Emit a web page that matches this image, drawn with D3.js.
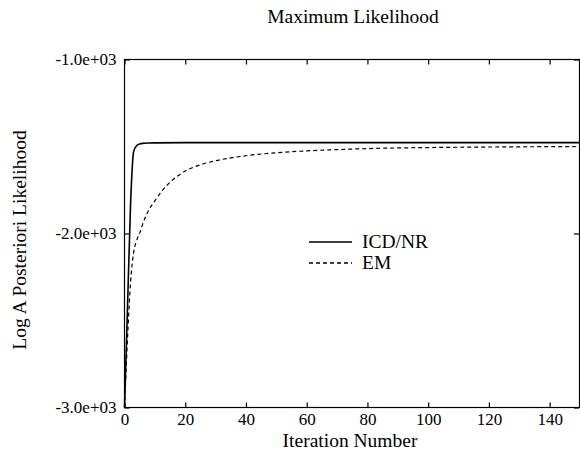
<!DOCTYPE html>
<html>
<head>
<meta charset="utf-8">
<script src="https://cdn.jsdelivr.net/npm/d3@7"></script>
<style>
  body { margin: 0; background: #fff; }
  svg { display: block; font-family: "Liberation Serif", "Times New Roman", serif; }
</style>
</head>
<body>
<div id="chart"></div>
<script>
// Iteration numbers and log posterior values
const icdIter = [0, 1, 2, 3, 4, 5, 6, 8, 10, 20, 40, 60, 80, 100, 120, 150];
const icdValue = [-3000, -2420, -1830, -1530, -1495, -1486, -1482, -1480, -1479, -1478, -1478, -1478, -1478, -1478, -1478, -1478];

const emIter = [0, 1, 2, 3, 4, 5, 6, 8, 10, 12, 15, 20, 25, 30, 40, 50, 60, 70, 80, 100, 120, 150];
const emValue = [-3000, -2600, -2280, -2110, -2040, -1998, -1945, -1865, -1812, -1763, -1705, -1641, -1605, -1582, -1553, -1536, -1525, -1518, -1512, -1506, -1503, -1500];

const xTicks = [0, 20, 40, 60, 80, 100, 120, 140];
const yTicks = [-1000, -2000, -3000];
const legendNames = ["ICD/NR", "EM"];

var width = 580, height = 452;
var plot = {left: 124.5, right: 580, top: 59.5, bottom: 407.5};

var svg = d3.select("#chart")
    .append("svg")
    .attr("width", width)
    .attr("height", height);

const x = d3.scaleLinear()
    .domain([0, 150])
    .range([plot.left, plot.right]);

const y = d3.scaleLinear()
    .domain([-3000, -1000])
    .range([plot.bottom, plot.top]);

// frame
svg.append("rect")
    .attr("x", plot.left)
    .attr("y", plot.top)
    .attr("width", plot.right - 0.5 - plot.left)
    .attr("height", plot.bottom - plot.top)
    .attr("fill", "none")
    .attr("stroke", "#000")
    .attr("stroke-width", 1.2);

// axes with inward ticks
svg.append("g")
    .attr("transform", `translate(0,${plot.bottom})`)
    .call(d3.axisBottom(x).tickValues(xTicks).tickSizeInner(-5).tickSizeOuter(0).tickPadding(5))
    .call(g => g.select(".domain").remove());

svg.append("g")
    .attr("transform", `translate(0,${plot.top})`)
    .call(d3.axisTop(x).tickValues(xTicks).tickSizeInner(-5).tickSizeOuter(0).tickFormat(""))
    .call(g => g.select(".domain").remove());

svg.append("g")
    .attr("transform", `translate(${plot.left},0)`)
    .call(d3.axisLeft(y).tickValues(yTicks).tickSizeInner(-5).tickSizeOuter(0).tickPadding(8)
        .tickFormat(d => d.toExponential(1).replace("e+3", "e+03")))
    .call(g => g.select(".domain").remove());

svg.append("g")
    .attr("transform", `translate(${plot.right - 1},0)`)
    .call(d3.axisRight(y).tickValues(yTicks).tickSizeInner(-5).tickSizeOuter(0).tickFormat(""))
    .call(g => g.select(".domain").remove());

svg.selectAll(".tick line").attr("stroke", "#000").attr("stroke-width", 1.2);
svg.selectAll(".tick text")
    .attr("fill", "#000")
    .style("font-family", "Liberation Serif")
    .style("font-size", "17px");

// lines
const line = d3.line()
    .x(d => x(d[0]))
    .y(d => y(d[1]))
    .curve(d3.curveMonotoneX);

svg.append("path")
    .datum(d3.zip(emIter, emValue))
    .attr("fill", "none")
    .attr("stroke", "#000")
    .attr("stroke-width", 1.2)
    .attr("stroke-dasharray", "4,3")
    .attr("d", line);

svg.append("path")
    .datum(d3.zip(icdIter, icdValue))
    .attr("fill", "none")
    .attr("stroke", "#000")
    .attr("stroke-width", 1.6)
    .attr("d", line);

// legend
const legend = svg.append("g")
    .selectAll("g")
    .data(legendNames)
    .enter().append("g")
    .attr("transform", (d, i) => `translate(309,${242 + i * 21})`);

legend.append("line")
    .attr("x1", 0)
    .attr("x2", 43)
    .attr("stroke", "#000")
    .attr("stroke-width", 1.4)
    .attr("stroke-dasharray", (d, i) => i === 0 ? null : "4,3");

legend.append("text")
    .attr("x", 53)
    .attr("dy", "0.32em")
    .style("font-size", "19.5px")
    .text(d => d);

// titles
svg.append("text")
    .attr("x", 353)
    .attr("y", 23)
    .attr("text-anchor", "middle")
    .style("font-size", "19.5px")
    .text("Maximum Likelihood");

svg.append("text")
    .attr("x", 350)
    .attr("y", 447)
    .attr("text-anchor", "middle")
    .style("font-size", "19.5px")
    .text("Iteration Number");

svg.append("text")
    .attr("transform", "translate(26,240) rotate(-90)")
    .attr("text-anchor", "middle")
    .style("font-size", "19.5px")
    .text("Log A Posteriori Likelihood");
</script>
</body>
</html>
